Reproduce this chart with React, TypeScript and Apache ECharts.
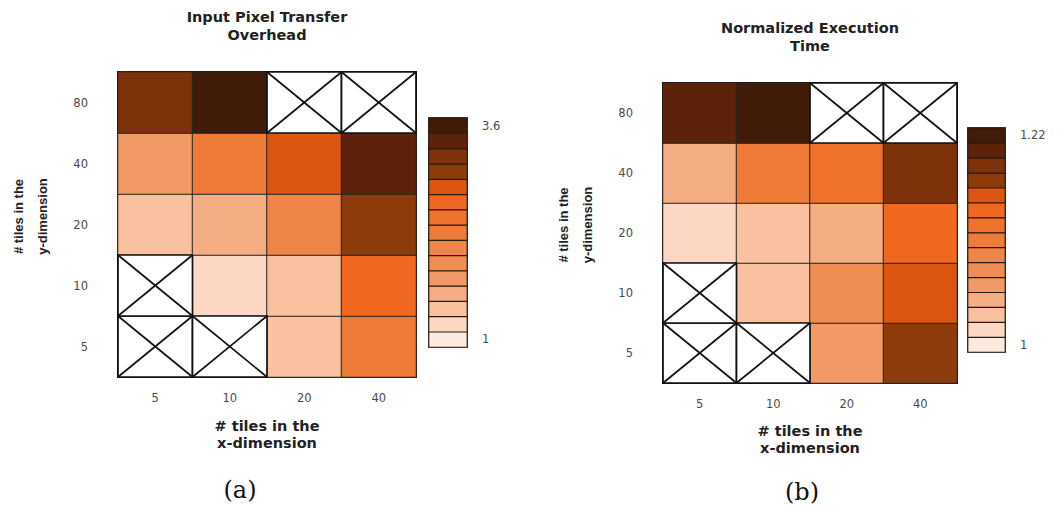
import React, { useEffect, useRef } from "react";
import * as echarts from "echarts";

// ---- data ----
const xTicks = ["5", "10", "20", "40"];
const yTicks = ["5", "10", "20", "40", "80"];

// rows: y = 5, 10, 20, 40, 80 ; columns: x = 5, 10, 20, 40 ; null = not measured (crossed cell)
const overheadValues: (number | null)[][] = [
  [null, null, 1.48, 2.35],
  [null, 1.25, 1.5, 2.65],
  [1.42, 1.6, 2.1, 3.0],
  [1.78, 2.3, 2.8, 3.35],
  [3.15, 3.55, null, null],
];
const execTimeValues: (number | null)[][] = [
  [null, null, 1.065, 1.168],
  [null, 1.038, 1.08, 1.155],
  [1.02, 1.035, 1.055, 1.14],
  [1.048, 1.11, 1.125, 1.183],
  [1.198, 1.215, null, null],
];

const overheadRange = [1, 3.6];
const execTimeRange = [1, 1.22];
const overheadBarLabels = ["1", "3.6"];
const execTimeBarLabels = ["1", "1.22"];

const titles = ["Input Pixel Transfer\nOverhead", "Normalized Execution\nTime"];
const captions = ["(a)", "(b)"];
const xName = "# tiles in the\nx-dimension";
const yName = "# tiles in the\ny-dimension";

// colour scale, lightest -> darkest (15 steps)
const palette = [
  "#fdeade", "#fcd8c4", "#f9c1a0", "#f5ad84", "#f29a66",
  "#f08d55", "#ef8549", "#ef7b38", "#ef712a", "#f06820",
  "#dc5612", "#8e3b0c", "#7e320a", "#5c230a", "#3f1b08",
];

function heatData(m: (number | null)[][]) {
  const out: number[][] = [];
  m.forEach((row, yi) => row.forEach((v, xi) => { if (v !== null) out.push([xi, yi, v]); }));
  return out;
}
function missingData(m: (number | null)[][]) {
  const out: number[][] = [];
  m.forEach((row, yi) => row.forEach((v, xi) => { if (v === null) out.push([xi, yi]); }));
  return out;
}
function pieces(range: number[]) {
  const n = palette.length;
  const step = (range[1] - range[0]) / n;
  return palette.map((c, i) => ({
    gte: range[0] + i * step,
    lt: i === n - 1 ? range[1] + 1e-9 : range[0] + (i + 1) * step,
    color: c,
  }));
}
function barData(range: number[]) {
  const n = palette.length;
  const step = (range[1] - range[0]) / n;
  return palette.map((_, i) => [0, i, range[0] + (i + 0.5) * step]);
}

const crossItem = (params: any, api: any) => {
  const c = api.coord([api.value(0), api.value(1)]);
  const s = api.size([1, 1]);
  const x0 = c[0] - s[0] / 2;
  const y0 = c[1] - s[1] / 2;
  const st = { stroke: "#111", lineWidth: 1.7, fill: null };
  return {
    type: "group",
    children: [
      { type: "rect", shape: { x: x0, y: y0, width: s[0], height: s[1] }, style: { fill: "#fff", stroke: "#111", lineWidth: 1.7 } },
      { type: "line", shape: { x1: x0, y1: y0, x2: x0 + s[0], y2: y0 + s[1] }, style: st },
      { type: "line", shape: { x1: x0 + s[0], y1: y0, x2: x0, y2: y0 + s[1] }, style: st },
    ],
  };
};

const tickFont = { fontFamily: "DejaVu Sans", fontSize: 11.5, color: "#4a4a4a" };

export default function App() {
  const ref = useRef<HTMLDivElement>(null);
  useEffect(() => {
    document.body.style.margin = "0";
    const chart = echarts.init(ref.current!, null, { renderer: "svg" });

    const panels = [
      { vals: overheadValues, range: overheadRange, bl: overheadBarLabels,
        grid: { left: 118, top: 72, width: 298, height: 305 },
        bar: { left: 429, top: 118, width: 38, height: 229 },
        titleX: 267, titleY: 8, capX: 240, capY: 476, nameGapX: 40 },
      { vals: execTimeValues, range: execTimeRange, bl: execTimeBarLabels,
        grid: { left: 663, top: 83, width: 294, height: 300 },
        bar: { left: 968, top: 128, width: 37, height: 224 },
        titleX: 810, titleY: 19, capX: 802, capY: 478, nameGapX: 39 },
    ];

    const grid: any[] = [];
    const xAxis: any[] = [];
    const yAxis: any[] = [];
    const series: any[] = [];
    const visualMap: any[] = [];
    const title: any[] = [];

    panels.forEach((p, k) => {
      const gi = grid.length;
      grid.push({ ...p.grid, show: true, borderColor: "#111", borderWidth: 2, backgroundColor: "transparent" });
      grid.push({ ...p.bar, show: true, borderColor: "#555", borderWidth: 1.5, backgroundColor: "transparent" });
      xAxis.push({
        type: "category", gridIndex: gi, data: xTicks, position: "bottom",
        axisLine: { show: false }, axisTick: { show: false }, splitLine: { show: false },
        axisLabel: { ...tickFont, margin: 15 },
        name: xName, nameLocation: "middle", nameGap: p.nameGapX,
        nameTextStyle: { fontFamily: "DejaVu Sans", fontWeight: "bold", fontSize: 14.5, lineHeight: 17, color: "#222" },
      });
      yAxis.push({
        type: "category", gridIndex: gi, data: yTicks,
        axisLine: { show: false }, axisTick: { show: false }, splitLine: { show: false },
        axisLabel: { ...tickFont, margin: 30 },
        name: yName, nameLocation: "middle", nameGap: 64,
        nameTextStyle: { fontFamily: "Liberation Sans", fontWeight: "bold", fontSize: 13, lineHeight: 24, color: "#222", padding: [0, 0, 0, 16] },
      });
      xAxis.push({ type: "category", gridIndex: gi + 1, data: ["c"], show: false });
      yAxis.push({
        type: "category", gridIndex: gi + 1, position: "right",
        data: palette.map((_, i) => String(i)),
        axisLine: { show: false }, axisTick: { show: false }, splitLine: { show: false },
        axisLabel: {
          ...tickFont, margin: 15, interval: 0,
          formatter: (_v: string, idx: number) => (idx === 0 ? p.bl[0] : idx === palette.length - 1 ? p.bl[1] : ""),
        },
      });
      const si = series.length;
      series.push({
        type: "heatmap", xAxisIndex: gi, yAxisIndex: gi, data: heatData(p.vals),
        itemStyle: { borderColor: "#2a2520", borderWidth: 1 },
        emphasis: { disabled: true },
      });
      series.push({
        type: "custom", xAxisIndex: gi, yAxisIndex: gi, data: missingData(p.vals),
        renderItem: crossItem, z: 3,
      });
      series.push({
        type: "heatmap", xAxisIndex: gi + 1, yAxisIndex: gi + 1, data: barData(p.range),
        itemStyle: { borderColor: "#2a1a10", borderWidth: 1.2 },
        emphasis: { disabled: true },
      });
      visualMap.push({
        type: "piecewise", show: false, seriesIndex: [si, si + 2], dimension: 2,
        pieces: pieces(p.range),
      });
      title.push({
        text: titles[k], left: p.titleX, top: p.titleY, textAlign: "center", padding: 0,
        textStyle: { fontFamily: "DejaVu Sans", fontWeight: "bold", fontSize: 14.5, lineHeight: 18, color: "#222" },
      });
      title.push({
        text: captions[k], left: p.capX, top: p.capY, textAlign: "center", padding: 0,
        textStyle: { fontFamily: "DejaVu Serif", fontWeight: "normal", fontSize: 24, lineHeight: 28, color: "#111" },
      });
    });

    chart.setOption({
      animation: false,
      backgroundColor: "#fff",
      title, grid, xAxis, yAxis, series, visualMap,
    });
    return () => chart.dispose();
  }, []);
  return <div ref={ref} style={{ position: "fixed", left: 0, top: 0, width: 1061, height: 509 }} />;
}
